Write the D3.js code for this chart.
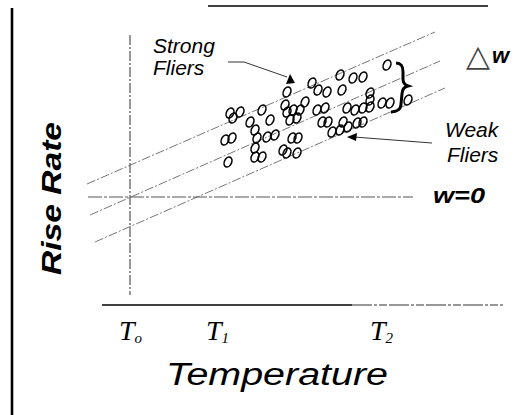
<!DOCTYPE html>
<html>
<head>
<meta charset="utf-8">
<script src="https://cdn.jsdelivr.net/npm/d3@7"></script>
<style>
body { margin: 0; background: #fff; }
svg { display: block; }
</style>
</head>
<body>
<script>
// sketch units: temperature along x, rise rate along y
var temps = [28.7, 24.0, 25.3, 26.3, 21.2, 21.8, 22.7, 24.2, 18.7, 27.0, 27.0, 27.0, 28.2, 29.0, 30.8,
             13.0, 13.3, 14.0, 16.2, 15.0, 17.0, 18.5, 18.7, 19.3, 20.0, 20.5, 19.0, 19.7, 21.7, 22.5,
             24.7, 25.5, 26.3, 22.2, 22.8, 24.3, 24.8, 25.7, 26.3, 23.2, 24.0, 12.5, 13.2, 15.5, 15.7,
             16.7, 17.5, 19.2, 19.8, 15.5, 15.5, 16.2, 18.3, 18.7, 19.7, 12.8];
var rates = [24.0, 23.0, 22.7, 22.8, 22.2, 21.5, 21.3, 21.5, 21.3, 21.2, 20.5, 19.8, 20.2, 20.2, 20.5,
             19.2, 18.7, 19.3, 19.5, 18.3, 18.5, 20.0, 19.3, 19.5, 19.5, 20.3, 18.5, 18.7, 19.5, 19.7,
             19.7, 19.5, 19.7, 18.3, 18.3, 18.3, 17.8, 18.2, 18.3, 17.3, 17.5, 16.5, 16.7, 17.5, 16.7,
             16.8, 17.0, 16.7, 16.7, 15.7, 14.8, 14.8, 15.5, 15.2, 15.2, 14.3];

// the three parallel w lines (strong, w = 0 through T0, weak)
var bandStart = [[-1.3, 12.1], [-1.0, 9.0], [-0.5, 6.3]];
var bandEnd = [[33.5, 27.3], [34.0, 24.4], [34.5, 21.7]];
var zeroRate = 10.8;
var tickTemps = [3.0, 11.7, 28.1];
var tickSubs = ['o', '1', '2'];

var W = 523, H = 415;
var sans = 'Liberation Sans, Arial, Helvetica, sans-serif';
var serif = 'Liberation Serif, Times New Roman, serif';

var svg = d3.select('body').append('svg')
    .attr('width', W)
    .attr('height', H);

var x = d3.scaleLinear().domain([0, 40]).range([100, 500]);
var y = d3.scaleLinear().domain([0, 30]).range([305, 5]);

// frame bits of the scanned page
svg.append('line').attr('x1', 12).attr('y1', 8).attr('x2', 12).attr('y2', H)
    .attr('stroke', '#000').attr('stroke-width', 2.6);
svg.append('line').attr('x1', 208).attr('y1', 6).attr('x2', 488).attr('y2', 6)
    .attr('stroke', '#000').attr('stroke-width', 1.4);

// T0 vertical and w = 0 horizontal
svg.append('line')
    .attr('x1', x(tickTemps[0])).attr('x2', x(tickTemps[0]))
    .attr('y1', y(27)).attr('y2', y(1))
    .attr('stroke', '#333').attr('stroke-width', 1)
    .attr('stroke-dasharray', '10 2 2 2');
svg.append('line')
    .attr('x1', x(-1.2)).attr('x2', x(31.3))
    .attr('y1', y(zeroRate)).attr('y2', y(zeroRate))
    .attr('stroke', '#555').attr('stroke-width', 1)
    .attr('stroke-dasharray', '14 2 3 2');

var line = d3.line().x(function (d) { return x(d[0]); }).y(function (d) { return y(d[1]); });
svg.selectAll('path.band')
    .data(bandStart)
    .enter()
    .append('path')
    .attr('class', 'band')
    .attr('d', function (d, i) { return line([d, bandEnd[i]]); })
    .attr('fill', 'none')
    .attr('stroke', '#666')
    .attr('stroke-width', 0.9)
    .attr('stroke-dasharray', '9 2 2 2');

// x axis: solid then broken where the scan faded
svg.append('line').attr('x1', x(0.2)).attr('x2', x(25.2)).attr('y1', y(0)).attr('y2', y(0))
    .attr('stroke', '#000').attr('stroke-width', 1.4);
svg.append('line').attr('x1', x(25.2)).attr('x2', x(40.3)).attr('y1', y(0)).attr('y2', y(0))
    .attr('stroke', '#333').attr('stroke-width', 1.1)
    .attr('stroke-dasharray', '20 2 3 2 8 2');

var gx = svg.append('g')
    .attr('transform', 'translate(0,' + y(0) + ')')
    .call(d3.axisBottom(x).tickValues(tickTemps).tickSize(0).tickPadding(15));
gx.select('.domain').remove();
gx.selectAll('text')
    .text(null)
    .attr('fill', '#000')
    .attr('font-family', serif)
    .attr('font-style', 'italic')
    .attr('font-size', 28)
    .each(function (d, i) {
        var t = d3.select(this);
        t.append('tspan').text('T');
        t.append('tspan').attr('font-size', 15).attr('dy', 3).text(tickSubs[i]);
    });

// scatter of flies, drawn as hand-written little o's
svg.selectAll('ellipse')
    .data(temps)
    .enter()
    .append('ellipse')
    .attr('transform', function (d, i) {
        return 'translate(' + x(d) + ',' + y(rates[i]) + ') rotate(25)';
    })
    .attr('rx', 3.6)
    .attr('ry', 5.2)
    .attr('fill', 'none')
    .attr('stroke', '#000')
    .attr('stroke-width', 1.6);

// brace marking delta w
svg.append('path')
    .attr('d', 'M396,63 C402,63 403,67 403,72 L403,79 C403,83 405,85 408,86 C404,87 402,90 402,94 L401,104 C401,109 397,112 391,112')
    .attr('fill', 'none').attr('stroke', '#000').attr('stroke-width', 3);

// arrows
svg.append('path').attr('d', 'M228,62 L244,62 L287,77')
    .attr('fill', 'none').attr('stroke', '#333').attr('stroke-width', 1);
svg.append('path').attr('d', 'M290,74 L286,84 L295,83 Z').attr('fill', '#000');
svg.append('path').attr('d', 'M432,143 L354,137')
    .attr('fill', 'none').attr('stroke', '#333').attr('stroke-width', 1);
svg.append('path').attr('d', 'M347,137 L357,133 L356,141 Z').attr('fill', '#000');

// labels
function label(txt, px, py, size, opts) {
    opts = opts || {};
    var t = svg.append('text')
        .attr('x', px).attr('y', py)
        .attr('font-family', opts.family || sans)
        .attr('font-size', size)
        .attr('font-style', opts.style || 'italic')
        .attr('font-weight', opts.weight || 'normal')
        .attr('fill', opts.fill || '#000')
        .text(txt);
    if (opts.len) t.attr('textLength', opts.len).attr('lengthAdjust', 'spacingAndGlyphs');
    if (opts.transform) t.attr('transform', opts.transform);
    return t;
}

label('Strong', 153, 53, 21);
label('Fliers', 153, 75, 21);
label('Weak', 445, 137, 21);
label('Fliers', 447, 162, 21);
label('w=0', 433, 203, 22, { weight: 'bold', len: 52 });
label('\u25B3', 466, 66, 30, { family: 'DejaVu Sans', style: 'normal', fill: '#444', len: 24 });
label('w', 492, 63, 22, { weight: 'bold' });
label('Temperature', 166, 385, 31, { len: 222 });
label('Rise Rate', 0, 0, 27, { weight: 'bold', len: 153, transform: 'translate(61,275) rotate(-90)' });
</script>
</body>
</html>
